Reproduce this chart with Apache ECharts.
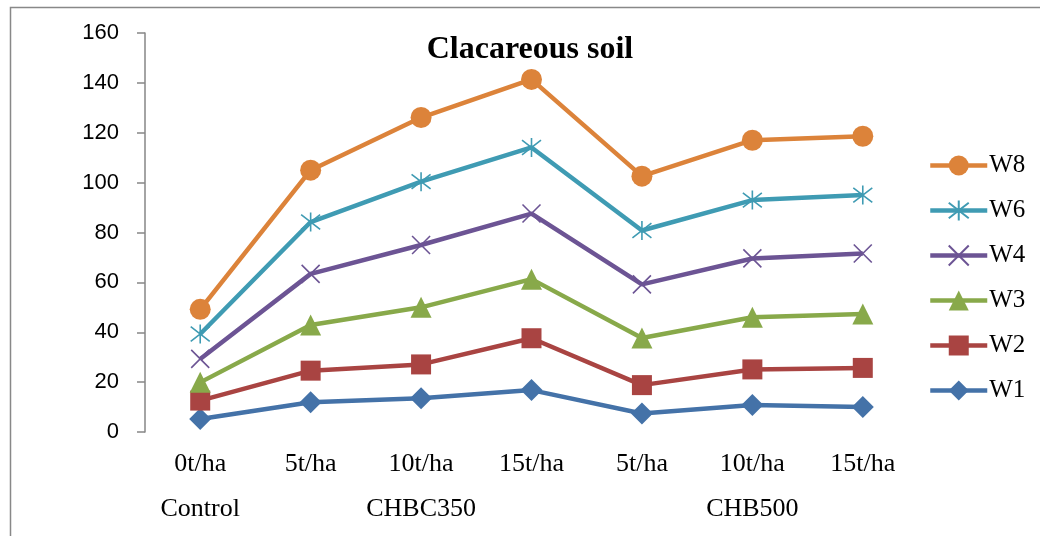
<!DOCTYPE html>
<html><head><meta charset="utf-8">
<script src="https://cdn.jsdelivr.net/npm/echarts@6/dist/echarts.min.js"></script>
<style>html,body{margin:0;padding:0;background:#fff}#c{width:1040px;height:536px}</style>
</head><body><div id="c"></div>
<script>
const categories = ['0t/ha','5t/ha','10t/ha','15t/ha','5t/ha','10t/ha','15t/ha'];
const groupLabels = ['Control','','CHBC350','','','CHB500',''];
const W1 = [5.2, 11.9, 13.5, 16.8, 7.4, 10.8, 10.0];
const W2 = [12.6, 24.6, 27.1, 37.6, 18.8, 25.1, 25.7];
const W3 = [19.9, 42.9, 50.0, 61.3, 37.7, 46.0, 47.3];
const W4 = [29.3, 63.4, 75.0, 87.6, 59.2, 69.6, 71.6];
const W6 = [39.3, 84.2, 100.4, 114.1, 80.8, 93.0, 95.0];
const W8 = [49.2, 105.0, 126.1, 141.4, 102.6, 117.0, 118.6];
const yTicks = {min: 0, max: 160, interval: 20};

const serif = '"Liberation Serif","Times New Roman",serif';
const starPath = 'path://M0,0L10,10M10,0L0,10M5,-1.5L5,11.5';
const xPath = 'path://M0,0L10,10M10,0L0,10';

function mk(name, data, color, symbol, size, stroke) {
  return {
    name, type: 'line', data, symbol, symbolSize: size,
    lineStyle: {color, width: 4.5},
    itemStyle: stroke ? {color: 'rgba(0,0,0,0)', borderColor: color, borderWidth: 1.6} : {color, borderWidth: 0},
    emphasis: {disabled: true},
    animation: false
  };
}

const chart = echarts.init(document.getElementById('c'), null, {renderer: 'canvas'});
chart.setOption({
  animation: false,
  title: {
    text: 'Clacareous soil', left: 525, textAlign: 'center', top: 29,
    textStyle: {fontFamily: serif, fontWeight: 'bold', fontSize: 32, color: '#000'}
  },
  graphic: [{
    type: 'rect', shape: {x: 10.5, y: 7.5, width: 1100, height: 600},
    style: {fill: 'none', stroke: '#888', lineWidth: 1.5}, silent: true, z: -1
  }],
  legend: {
    orient: 'vertical', left: 923, top: 148,
    itemWidth: 57, itemHeight: 25, itemGap: 20,
    lineStyle: {width: 4.5},
    data: ['W8','W6','W4','W3','W2','W1'],
    textStyle: {fontFamily: serif, fontSize: 25, color: '#000', padding: [0,0,0,-3]}
  },
  grid: {left: 145, right: 122, top: 33, bottom: 104},
  xAxis: [{
    type: 'category', data: categories, boundaryGap: true,
    axisLine: {show: false}, axisTick: {show: false},
    axisLabel: {fontFamily: serif, fontSize: 26, color: '#000', margin: 19, interval: 0}
  }, {
    type: 'category', data: groupLabels, boundaryGap: true, position: 'bottom', offset: 45,
    axisLine: {show: false}, axisTick: {show: false},
    axisLabel: {fontFamily: serif, fontSize: 26, color: '#000', margin: 19, interval: 0}
  }],
  yAxis: {
    type: 'value', min: yTicks.min, max: yTicks.max, interval: yTicks.interval,
    axisLine: {show: true, lineStyle: {color: '#868686', width: 1.5}},
    axisTick: {show: true, length: 8, lineStyle: {color: '#868686', width: 1.5}},
    splitLine: {show: false},
    axisLabel: {fontFamily: '"Liberation Sans",Arial,sans-serif', fontSize: 22, color: '#000', margin: 26}
  },
  series: [
    mk('W1', W1, '#4472A8', 'diamond', 22, false),
    mk('W2', W2, '#A94442', 'rect', 20, false),
    mk('W3', W3, '#88A94A', 'triangle', 21, false),
    mk('W4', W4, '#6C5494', xPath, 18, true),
    mk('W6', W6, '#3F9BB3', starPath, 19, true),
    mk('W8', W8, '#DC833A', 'circle', 21, false)
  ]
});
</script></body></html>
